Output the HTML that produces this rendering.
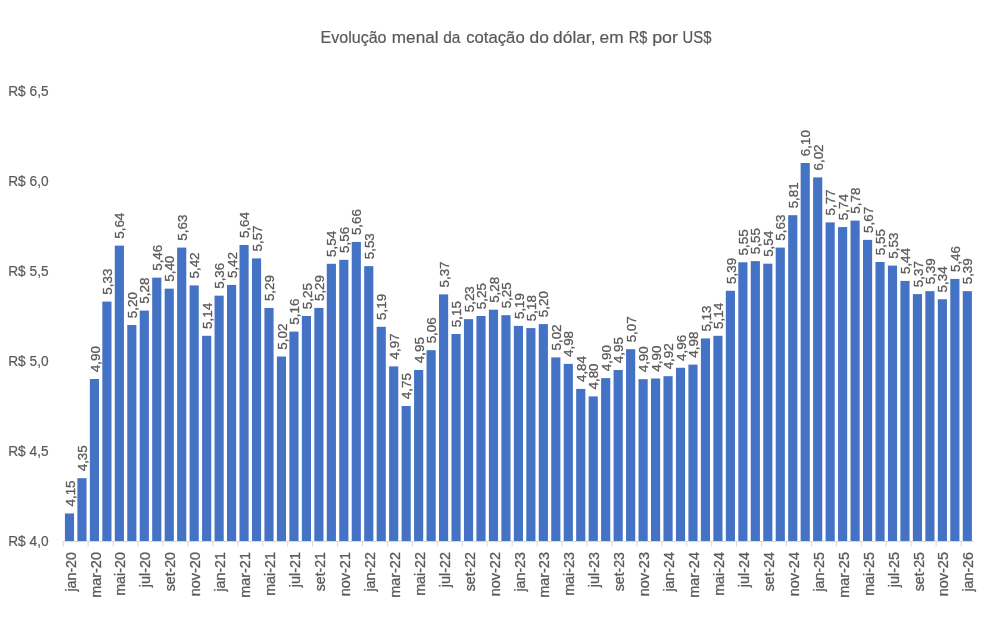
<!DOCTYPE html>
<html lang="pt-BR"><head><meta charset="utf-8"><title>Evolução menal da cotação do dólar</title>
<style>html,body{margin:0;padding:0;background:#fff}svg{display:block}text{font-family:"Liberation Sans",sans-serif;fill:#595959;stroke:#595959;stroke-width:.2px}.r text{stroke-width:.3px}</style></head><body>
<svg width="1006" height="629" viewBox="0 0 1006 629">
<rect width="1006" height="629" fill="#fff"/>
<text font-size="16.8" y="42.8"><tspan x="320.52" textLength="65.99" lengthAdjust="spacingAndGlyphs">Evolução</tspan> <tspan x="391.80" textLength="46.80" lengthAdjust="spacingAndGlyphs">menal</tspan> <tspan x="443.23" textLength="17.20" lengthAdjust="spacingAndGlyphs">da</tspan> <tspan x="466.23" textLength="58.48" lengthAdjust="spacingAndGlyphs">cotação</tspan> <tspan x="529.50" textLength="19.33" lengthAdjust="spacingAndGlyphs">do</tspan> <tspan x="553.11" textLength="42.39" lengthAdjust="spacingAndGlyphs">dólar,</tspan> <tspan x="599.61" textLength="23.99" lengthAdjust="spacingAndGlyphs">em</tspan> <tspan x="628.84" textLength="18.53" lengthAdjust="spacingAndGlyphs">R$</tspan> <tspan x="652.15" textLength="25.72" lengthAdjust="spacingAndGlyphs">por</tspan> <tspan x="682.62" textLength="28.81" lengthAdjust="spacingAndGlyphs">US$</tspan></text>
<g font-size="15.5">
<text x="8.20" y="545.60" textLength="40.43" lengthAdjust="spacingAndGlyphs">R$ 4,0</text>
<text x="8.20" y="455.60" textLength="40.43" lengthAdjust="spacingAndGlyphs">R$ 4,5</text>
<text x="8.20" y="365.60" textLength="40.43" lengthAdjust="spacingAndGlyphs">R$ 5,0</text>
<text x="8.20" y="275.60" textLength="40.43" lengthAdjust="spacingAndGlyphs">R$ 5,5</text>
<text x="8.20" y="185.60" textLength="40.43" lengthAdjust="spacingAndGlyphs">R$ 6,0</text>
<text x="8.20" y="95.60" textLength="40.43" lengthAdjust="spacingAndGlyphs">R$ 6,5</text>
</g>
<g fill="#4472C4">
<rect x="64.91" y="513.41" width="9.15" height="27.59"/>
<rect x="77.38" y="478.18" width="9.15" height="62.82"/>
<rect x="89.85" y="379.00" width="9.15" height="162.00"/>
<rect x="102.32" y="301.60" width="9.15" height="239.40"/>
<rect x="114.79" y="245.62" width="9.15" height="295.38"/>
<rect x="127.26" y="325.00" width="9.15" height="216.00"/>
<rect x="139.73" y="310.60" width="9.15" height="230.40"/>
<rect x="152.20" y="277.66" width="9.15" height="263.34"/>
<rect x="164.67" y="288.64" width="9.15" height="252.36"/>
<rect x="177.14" y="247.60" width="9.15" height="293.40"/>
<rect x="189.61" y="285.40" width="9.15" height="255.60"/>
<rect x="202.08" y="335.80" width="9.15" height="205.20"/>
<rect x="214.55" y="295.66" width="9.15" height="245.34"/>
<rect x="227.02" y="284.93" width="9.15" height="256.07"/>
<rect x="239.49" y="244.97" width="9.15" height="296.03"/>
<rect x="251.96" y="258.40" width="9.15" height="282.60"/>
<rect x="264.43" y="307.95" width="9.15" height="233.05"/>
<rect x="276.90" y="356.52" width="9.15" height="184.48"/>
<rect x="289.37" y="331.61" width="9.15" height="209.39"/>
<rect x="301.84" y="316.00" width="9.15" height="225.00"/>
<rect x="314.31" y="307.92" width="9.15" height="233.08"/>
<rect x="326.78" y="263.80" width="9.15" height="277.20"/>
<rect x="339.25" y="259.84" width="9.15" height="281.16"/>
<rect x="351.72" y="241.95" width="9.15" height="299.05"/>
<rect x="364.19" y="266.14" width="9.15" height="274.86"/>
<rect x="376.66" y="326.80" width="9.15" height="214.20"/>
<rect x="389.13" y="366.40" width="9.15" height="174.60"/>
<rect x="401.60" y="406.00" width="9.15" height="135.00"/>
<rect x="414.07" y="370.00" width="9.15" height="171.00"/>
<rect x="426.54" y="350.20" width="9.15" height="190.80"/>
<rect x="439.01" y="294.40" width="9.15" height="246.60"/>
<rect x="451.48" y="334.00" width="9.15" height="207.00"/>
<rect x="463.95" y="319.15" width="9.15" height="221.85"/>
<rect x="476.42" y="316.00" width="9.15" height="225.00"/>
<rect x="488.89" y="309.72" width="9.15" height="231.28"/>
<rect x="501.36" y="315.19" width="9.15" height="225.81"/>
<rect x="513.83" y="325.92" width="9.15" height="215.08"/>
<rect x="526.30" y="328.10" width="9.15" height="212.90"/>
<rect x="538.77" y="324.12" width="9.15" height="216.88"/>
<rect x="551.24" y="357.40" width="9.15" height="183.60"/>
<rect x="563.71" y="363.88" width="9.15" height="177.12"/>
<rect x="576.18" y="388.92" width="9.15" height="152.08"/>
<rect x="588.65" y="396.41" width="9.15" height="144.59"/>
<rect x="601.12" y="378.12" width="9.15" height="162.88"/>
<rect x="613.59" y="370.00" width="9.15" height="171.00"/>
<rect x="626.06" y="349.19" width="9.15" height="191.81"/>
<rect x="638.53" y="379.18" width="9.15" height="161.82"/>
<rect x="651.00" y="378.50" width="9.15" height="162.50"/>
<rect x="663.47" y="376.21" width="9.15" height="164.79"/>
<rect x="675.94" y="367.77" width="9.15" height="173.23"/>
<rect x="688.41" y="364.60" width="9.15" height="176.40"/>
<rect x="700.88" y="338.45" width="9.15" height="202.55"/>
<rect x="713.35" y="335.80" width="9.15" height="205.20"/>
<rect x="725.82" y="290.80" width="9.15" height="250.20"/>
<rect x="738.29" y="262.27" width="9.15" height="278.73"/>
<rect x="750.76" y="261.12" width="9.15" height="279.88"/>
<rect x="763.23" y="263.69" width="9.15" height="277.31"/>
<rect x="775.70" y="247.60" width="9.15" height="293.40"/>
<rect x="788.17" y="215.20" width="9.15" height="325.80"/>
<rect x="800.64" y="163.00" width="9.15" height="378.00"/>
<rect x="813.11" y="177.40" width="9.15" height="363.60"/>
<rect x="825.58" y="222.40" width="9.15" height="318.60"/>
<rect x="838.05" y="227.08" width="9.15" height="313.92"/>
<rect x="850.52" y="220.60" width="9.15" height="320.40"/>
<rect x="862.99" y="239.86" width="9.15" height="301.14"/>
<rect x="875.46" y="262.00" width="9.15" height="279.00"/>
<rect x="887.93" y="265.60" width="9.15" height="275.40"/>
<rect x="900.40" y="280.92" width="9.15" height="260.08"/>
<rect x="912.87" y="294.09" width="9.15" height="246.91"/>
<rect x="925.34" y="291.16" width="9.15" height="249.84"/>
<rect x="937.81" y="299.26" width="9.15" height="241.74"/>
<rect x="950.28" y="278.92" width="9.15" height="262.08"/>
<rect x="962.75" y="291.16" width="9.15" height="249.84"/>
</g>
<g stroke="#D9D9D9" stroke-width="1" fill="none">
<path d="M62.75 541.5H973.56"/>
<path d="M63.25 541V546.7"/>
<path d="M88.19 541V546.7"/>
<path d="M113.13 541V546.7"/>
<path d="M138.07 541V546.7"/>
<path d="M163.01 541V546.7"/>
<path d="M187.95 541V546.7"/>
<path d="M212.89 541V546.7"/>
<path d="M237.83 541V546.7"/>
<path d="M262.77 541V546.7"/>
<path d="M287.71 541V546.7"/>
<path d="M312.65 541V546.7"/>
<path d="M337.59 541V546.7"/>
<path d="M362.53 541V546.7"/>
<path d="M387.47 541V546.7"/>
<path d="M412.41 541V546.7"/>
<path d="M437.35 541V546.7"/>
<path d="M462.29 541V546.7"/>
<path d="M487.23 541V546.7"/>
<path d="M512.17 541V546.7"/>
<path d="M537.11 541V546.7"/>
<path d="M562.05 541V546.7"/>
<path d="M586.99 541V546.7"/>
<path d="M611.93 541V546.7"/>
<path d="M636.87 541V546.7"/>
<path d="M661.81 541V546.7"/>
<path d="M686.75 541V546.7"/>
<path d="M711.69 541V546.7"/>
<path d="M736.63 541V546.7"/>
<path d="M761.57 541V546.7"/>
<path d="M786.51 541V546.7"/>
<path d="M811.45 541V546.7"/>
<path d="M836.39 541V546.7"/>
<path d="M861.33 541V546.7"/>
<path d="M886.27 541V546.7"/>
<path d="M911.21 541V546.7"/>
<path d="M936.15 541V546.7"/>
<path d="M961.09 541V546.7"/>
</g>
<g class="r" font-size="13.6">
<text transform="translate(74.58 506.54) rotate(-90)" textLength="26.09" lengthAdjust="spacingAndGlyphs">4,15</text>
<text transform="translate(87.05 471.32) rotate(-90)" textLength="26.09" lengthAdjust="spacingAndGlyphs">4,35</text>
<text transform="translate(99.52 372.14) rotate(-90)" textLength="26.09" lengthAdjust="spacingAndGlyphs">4,90</text>
<text transform="translate(112.00 294.74) rotate(-90)" textLength="26.09" lengthAdjust="spacingAndGlyphs">5,33</text>
<text transform="translate(124.47 238.76) rotate(-90)" textLength="26.09" lengthAdjust="spacingAndGlyphs">5,64</text>
<text transform="translate(136.94 318.14) rotate(-90)" textLength="26.09" lengthAdjust="spacingAndGlyphs">5,20</text>
<text transform="translate(149.41 303.74) rotate(-90)" textLength="26.09" lengthAdjust="spacingAndGlyphs">5,28</text>
<text transform="translate(161.88 270.80) rotate(-90)" textLength="26.09" lengthAdjust="spacingAndGlyphs">5,46</text>
<text transform="translate(174.34 281.78) rotate(-90)" textLength="26.09" lengthAdjust="spacingAndGlyphs">5,40</text>
<text transform="translate(186.81 240.74) rotate(-90)" textLength="26.09" lengthAdjust="spacingAndGlyphs">5,63</text>
<text transform="translate(199.28 278.54) rotate(-90)" textLength="26.09" lengthAdjust="spacingAndGlyphs">5,42</text>
<text transform="translate(211.75 328.94) rotate(-90)" textLength="26.09" lengthAdjust="spacingAndGlyphs">5,14</text>
<text transform="translate(224.22 288.80) rotate(-90)" textLength="26.09" lengthAdjust="spacingAndGlyphs">5,36</text>
<text transform="translate(236.69 278.07) rotate(-90)" textLength="26.09" lengthAdjust="spacingAndGlyphs">5,42</text>
<text transform="translate(249.16 238.11) rotate(-90)" textLength="26.09" lengthAdjust="spacingAndGlyphs">5,64</text>
<text transform="translate(261.63 251.54) rotate(-90)" textLength="26.09" lengthAdjust="spacingAndGlyphs">5,57</text>
<text transform="translate(274.11 301.09) rotate(-90)" textLength="26.09" lengthAdjust="spacingAndGlyphs">5,29</text>
<text transform="translate(286.58 349.65) rotate(-90)" textLength="26.09" lengthAdjust="spacingAndGlyphs">5,02</text>
<text transform="translate(299.05 324.74) rotate(-90)" textLength="26.09" lengthAdjust="spacingAndGlyphs">5,16</text>
<text transform="translate(311.52 309.14) rotate(-90)" textLength="26.09" lengthAdjust="spacingAndGlyphs">5,25</text>
<text transform="translate(323.99 301.05) rotate(-90)" textLength="26.09" lengthAdjust="spacingAndGlyphs">5,29</text>
<text transform="translate(336.46 256.94) rotate(-90)" textLength="26.09" lengthAdjust="spacingAndGlyphs">5,54</text>
<text transform="translate(348.93 252.98) rotate(-90)" textLength="26.09" lengthAdjust="spacingAndGlyphs">5,56</text>
<text transform="translate(361.40 235.08) rotate(-90)" textLength="26.09" lengthAdjust="spacingAndGlyphs">5,66</text>
<text transform="translate(373.87 259.28) rotate(-90)" textLength="26.09" lengthAdjust="spacingAndGlyphs">5,53</text>
<text transform="translate(386.34 319.94) rotate(-90)" textLength="26.09" lengthAdjust="spacingAndGlyphs">5,19</text>
<text transform="translate(398.81 359.54) rotate(-90)" textLength="26.09" lengthAdjust="spacingAndGlyphs">4,97</text>
<text transform="translate(411.28 399.14) rotate(-90)" textLength="26.09" lengthAdjust="spacingAndGlyphs">4,75</text>
<text transform="translate(423.75 363.14) rotate(-90)" textLength="26.09" lengthAdjust="spacingAndGlyphs">4,95</text>
<text transform="translate(436.22 343.34) rotate(-90)" textLength="26.09" lengthAdjust="spacingAndGlyphs">5,06</text>
<text transform="translate(448.69 287.54) rotate(-90)" textLength="26.09" lengthAdjust="spacingAndGlyphs">5,37</text>
<text transform="translate(461.16 327.14) rotate(-90)" textLength="26.09" lengthAdjust="spacingAndGlyphs">5,15</text>
<text transform="translate(473.63 312.29) rotate(-90)" textLength="26.09" lengthAdjust="spacingAndGlyphs">5,23</text>
<text transform="translate(486.10 309.14) rotate(-90)" textLength="26.09" lengthAdjust="spacingAndGlyphs">5,25</text>
<text transform="translate(498.57 302.85) rotate(-90)" textLength="26.09" lengthAdjust="spacingAndGlyphs">5,28</text>
<text transform="translate(511.04 308.33) rotate(-90)" textLength="26.09" lengthAdjust="spacingAndGlyphs">5,25</text>
<text transform="translate(523.50 319.05) rotate(-90)" textLength="26.09" lengthAdjust="spacingAndGlyphs">5,19</text>
<text transform="translate(535.98 321.23) rotate(-90)" textLength="26.09" lengthAdjust="spacingAndGlyphs">5,18</text>
<text transform="translate(548.45 317.25) rotate(-90)" textLength="26.09" lengthAdjust="spacingAndGlyphs">5,20</text>
<text transform="translate(560.92 350.54) rotate(-90)" textLength="26.09" lengthAdjust="spacingAndGlyphs">5,02</text>
<text transform="translate(573.39 357.02) rotate(-90)" textLength="26.09" lengthAdjust="spacingAndGlyphs">4,98</text>
<text transform="translate(585.86 382.05) rotate(-90)" textLength="26.09" lengthAdjust="spacingAndGlyphs">4,84</text>
<text transform="translate(598.33 389.54) rotate(-90)" textLength="26.09" lengthAdjust="spacingAndGlyphs">4,80</text>
<text transform="translate(610.80 371.25) rotate(-90)" textLength="26.09" lengthAdjust="spacingAndGlyphs">4,90</text>
<text transform="translate(623.27 363.14) rotate(-90)" textLength="26.09" lengthAdjust="spacingAndGlyphs">4,95</text>
<text transform="translate(635.74 342.33) rotate(-90)" textLength="26.09" lengthAdjust="spacingAndGlyphs">5,07</text>
<text transform="translate(648.21 372.32) rotate(-90)" textLength="26.09" lengthAdjust="spacingAndGlyphs">4,90</text>
<text transform="translate(660.68 371.63) rotate(-90)" textLength="26.09" lengthAdjust="spacingAndGlyphs">4,90</text>
<text transform="translate(673.15 369.35) rotate(-90)" textLength="26.09" lengthAdjust="spacingAndGlyphs">4,92</text>
<text transform="translate(685.62 360.90) rotate(-90)" textLength="26.09" lengthAdjust="spacingAndGlyphs">4,96</text>
<text transform="translate(698.09 357.74) rotate(-90)" textLength="26.09" lengthAdjust="spacingAndGlyphs">4,98</text>
<text transform="translate(710.56 331.58) rotate(-90)" textLength="26.09" lengthAdjust="spacingAndGlyphs">5,13</text>
<text transform="translate(723.03 328.94) rotate(-90)" textLength="26.09" lengthAdjust="spacingAndGlyphs">5,14</text>
<text transform="translate(735.50 283.94) rotate(-90)" textLength="26.09" lengthAdjust="spacingAndGlyphs">5,39</text>
<text transform="translate(747.97 255.41) rotate(-90)" textLength="26.09" lengthAdjust="spacingAndGlyphs">5,55</text>
<text transform="translate(760.44 254.25) rotate(-90)" textLength="26.09" lengthAdjust="spacingAndGlyphs">5,55</text>
<text transform="translate(772.91 256.83) rotate(-90)" textLength="26.09" lengthAdjust="spacingAndGlyphs">5,54</text>
<text transform="translate(785.38 240.74) rotate(-90)" textLength="26.09" lengthAdjust="spacingAndGlyphs">5,63</text>
<text transform="translate(797.85 208.34) rotate(-90)" textLength="26.09" lengthAdjust="spacingAndGlyphs">5,81</text>
<text transform="translate(810.32 156.14) rotate(-90)" textLength="26.09" lengthAdjust="spacingAndGlyphs">6,10</text>
<text transform="translate(822.79 170.54) rotate(-90)" textLength="26.09" lengthAdjust="spacingAndGlyphs">6,02</text>
<text transform="translate(835.26 215.54) rotate(-90)" textLength="26.09" lengthAdjust="spacingAndGlyphs">5,77</text>
<text transform="translate(847.73 220.22) rotate(-90)" textLength="26.09" lengthAdjust="spacingAndGlyphs">5,74</text>
<text transform="translate(860.20 213.74) rotate(-90)" textLength="26.09" lengthAdjust="spacingAndGlyphs">5,78</text>
<text transform="translate(872.67 233.00) rotate(-90)" textLength="26.09" lengthAdjust="spacingAndGlyphs">5,67</text>
<text transform="translate(885.14 255.14) rotate(-90)" textLength="26.09" lengthAdjust="spacingAndGlyphs">5,55</text>
<text transform="translate(897.61 258.74) rotate(-90)" textLength="26.09" lengthAdjust="spacingAndGlyphs">5,53</text>
<text transform="translate(910.08 274.05) rotate(-90)" textLength="26.09" lengthAdjust="spacingAndGlyphs">5,44</text>
<text transform="translate(922.55 287.23) rotate(-90)" textLength="26.09" lengthAdjust="spacingAndGlyphs">5,37</text>
<text transform="translate(935.02 284.30) rotate(-90)" textLength="26.09" lengthAdjust="spacingAndGlyphs">5,39</text>
<text transform="translate(947.49 292.40) rotate(-90)" textLength="26.09" lengthAdjust="spacingAndGlyphs">5,34</text>
<text transform="translate(959.96 272.06) rotate(-90)" textLength="26.09" lengthAdjust="spacingAndGlyphs">5,46</text>
<text transform="translate(972.43 284.30) rotate(-90)" textLength="26.09" lengthAdjust="spacingAndGlyphs">5,39</text>
</g>
<g class="r" font-size="15.3">
<text transform="translate(75.58 591.62) rotate(-90)" textLength="39.58" lengthAdjust="spacingAndGlyphs">jan-20</text>
<text transform="translate(100.52 597.81) rotate(-90)" textLength="45.75" lengthAdjust="spacingAndGlyphs">mar-20</text>
<text transform="translate(125.47 595.80) rotate(-90)" textLength="43.73" lengthAdjust="spacingAndGlyphs">mai-20</text>
<text transform="translate(150.41 587.21) rotate(-90)" textLength="35.13" lengthAdjust="spacingAndGlyphs">jul-20</text>
<text transform="translate(175.34 591.22) rotate(-90)" textLength="39.18" lengthAdjust="spacingAndGlyphs">set-20</text>
<text transform="translate(200.28 596.31) rotate(-90)" textLength="44.26" lengthAdjust="spacingAndGlyphs">nov-20</text>
<text transform="translate(225.22 591.62) rotate(-90)" textLength="39.58" lengthAdjust="spacingAndGlyphs">jan-21</text>
<text transform="translate(250.16 597.81) rotate(-90)" textLength="45.75" lengthAdjust="spacingAndGlyphs">mar-21</text>
<text transform="translate(275.11 595.80) rotate(-90)" textLength="43.73" lengthAdjust="spacingAndGlyphs">mai-21</text>
<text transform="translate(300.05 587.21) rotate(-90)" textLength="35.13" lengthAdjust="spacingAndGlyphs">jul-21</text>
<text transform="translate(324.99 591.22) rotate(-90)" textLength="39.18" lengthAdjust="spacingAndGlyphs">set-21</text>
<text transform="translate(349.93 596.31) rotate(-90)" textLength="44.26" lengthAdjust="spacingAndGlyphs">nov-21</text>
<text transform="translate(374.87 591.62) rotate(-90)" textLength="39.58" lengthAdjust="spacingAndGlyphs">jan-22</text>
<text transform="translate(399.81 597.81) rotate(-90)" textLength="45.75" lengthAdjust="spacingAndGlyphs">mar-22</text>
<text transform="translate(424.75 595.80) rotate(-90)" textLength="43.73" lengthAdjust="spacingAndGlyphs">mai-22</text>
<text transform="translate(449.69 587.21) rotate(-90)" textLength="35.13" lengthAdjust="spacingAndGlyphs">jul-22</text>
<text transform="translate(474.63 591.22) rotate(-90)" textLength="39.18" lengthAdjust="spacingAndGlyphs">set-22</text>
<text transform="translate(499.57 596.31) rotate(-90)" textLength="44.26" lengthAdjust="spacingAndGlyphs">nov-22</text>
<text transform="translate(524.50 591.62) rotate(-90)" textLength="39.58" lengthAdjust="spacingAndGlyphs">jan-23</text>
<text transform="translate(549.45 597.81) rotate(-90)" textLength="45.75" lengthAdjust="spacingAndGlyphs">mar-23</text>
<text transform="translate(574.39 595.80) rotate(-90)" textLength="43.73" lengthAdjust="spacingAndGlyphs">mai-23</text>
<text transform="translate(599.33 587.21) rotate(-90)" textLength="35.13" lengthAdjust="spacingAndGlyphs">jul-23</text>
<text transform="translate(624.27 591.22) rotate(-90)" textLength="39.18" lengthAdjust="spacingAndGlyphs">set-23</text>
<text transform="translate(649.21 596.31) rotate(-90)" textLength="44.26" lengthAdjust="spacingAndGlyphs">nov-23</text>
<text transform="translate(674.15 591.62) rotate(-90)" textLength="39.58" lengthAdjust="spacingAndGlyphs">jan-24</text>
<text transform="translate(699.09 597.81) rotate(-90)" textLength="45.75" lengthAdjust="spacingAndGlyphs">mar-24</text>
<text transform="translate(724.03 595.80) rotate(-90)" textLength="43.73" lengthAdjust="spacingAndGlyphs">mai-24</text>
<text transform="translate(748.97 587.21) rotate(-90)" textLength="35.13" lengthAdjust="spacingAndGlyphs">jul-24</text>
<text transform="translate(773.91 591.22) rotate(-90)" textLength="39.18" lengthAdjust="spacingAndGlyphs">set-24</text>
<text transform="translate(798.85 596.31) rotate(-90)" textLength="44.26" lengthAdjust="spacingAndGlyphs">nov-24</text>
<text transform="translate(823.79 591.62) rotate(-90)" textLength="39.58" lengthAdjust="spacingAndGlyphs">jan-25</text>
<text transform="translate(848.73 597.81) rotate(-90)" textLength="45.75" lengthAdjust="spacingAndGlyphs">mar-25</text>
<text transform="translate(873.67 595.80) rotate(-90)" textLength="43.73" lengthAdjust="spacingAndGlyphs">mai-25</text>
<text transform="translate(898.61 587.21) rotate(-90)" textLength="35.13" lengthAdjust="spacingAndGlyphs">jul-25</text>
<text transform="translate(923.55 591.22) rotate(-90)" textLength="39.18" lengthAdjust="spacingAndGlyphs">set-25</text>
<text transform="translate(948.49 596.31) rotate(-90)" textLength="44.26" lengthAdjust="spacingAndGlyphs">nov-25</text>
<text transform="translate(973.43 591.62) rotate(-90)" textLength="39.58" lengthAdjust="spacingAndGlyphs">jan-26</text>
</g>
</svg></body></html>
